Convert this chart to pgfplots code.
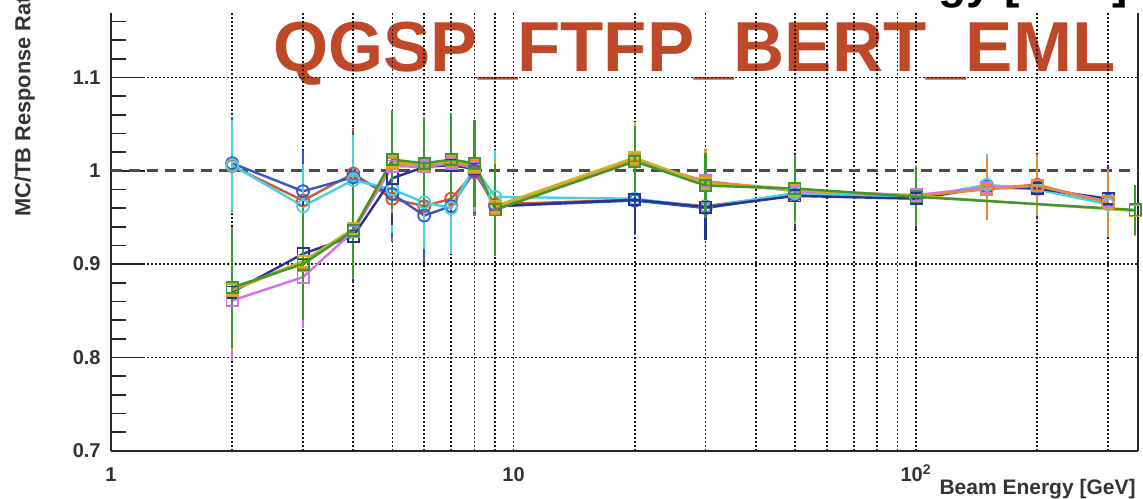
\documentclass[border=0pt]{standalone}
\usepackage{fontspec}
\setmainfont{Liberation Sans}
\usepackage{pgfplots}
\usepackage{pgfplotstable}
\pgfplotsset{compat=1.18}

\definecolor{titlered}{RGB}{190,72,40}
\definecolor{cBlue}{RGB}{55,85,205}
\definecolor{cNavy}{RGB}{40,50,150}
\definecolor{cCyan}{RGB}{70,210,225}
\definecolor{cRed}{RGB}{200,90,60}
\definecolor{cOrange}{RGB}{230,140,50}
\definecolor{cGreen}{RGB}{60,150,50}
\definecolor{cOlive}{RGB}{200,180,30}
\definecolor{cMagenta}{RGB}{210,110,240}

% E [GeV], MC/TB response ratio, uncertainty
\pgfplotstableread{
E R err
2 1.008 0.045
3 0.978 0.040
4 0.993 0.045
5 0.975 0.042
6 0.952 0.045
7 0.962 0.045
8 1.000 0.042
9 0.962 0.045
20 0.968 0.032
30 0.960 0.030
50 0.974 0.032
100 0.971 0.028
150 0.983 0.028
200 0.982 0.028
300 0.968 0.030
}\tBlue
\pgfplotstableread{
E R err
2 1.006 0.044
3 0.962 0.040
4 0.990 0.044
5 0.980 0.042
6 0.966 0.045
7 0.960 0.045
8 1.004 0.042
9 0.972 0.045
20 0.970 0.032
30 0.961 0.030
50 0.976 0.032
100 0.971 0.028
150 0.985 0.028
200 0.980 0.028
300 0.964 0.030
}\tCyan
\pgfplotstableread{
E R err
2 1.005 0.045
3 0.968 0.040
4 0.997 0.044
5 0.970 0.042
6 0.962 0.045
7 0.970 0.045
8 0.998 0.042
9 0.964 0.045
20 0.969 0.032
30 0.962 0.030
50 0.975 0.032
100 0.973 0.028
150 0.981 0.028
200 0.985 0.028
300 0.965 0.030
}\tRed
\pgfplotstableread{
E R err
2 0.870 0.058
3 0.911 0.052
4 0.930 0.045
5 0.992 0.045
6 1.004 0.045
7 1.006 0.045
8 1.002 0.042
9 0.962 0.045
20 0.969 0.032
30 0.961 0.030
50 0.973 0.032
100 0.970 0.028
150 0.982 0.028
200 0.981 0.028
300 0.970 0.030
}\tNavy
\pgfplotstableread{
E R err
2 0.872 0.060
3 0.902 0.055
4 0.937 0.047
5 1.008 0.047
6 1.006 0.045
7 1.010 0.045
8 1.005 0.042
9 0.960 0.045
20 1.012 0.033
30 0.988 0.030
50 0.980 0.032
100 0.973 0.028
150 0.980 0.028
200 0.984 0.028
300 0.966 0.030
}\tOrange
\pgfplotstableread{
E R err
2 0.861 0.060
3 0.886 0.050
4 0.935 0.046
5 1.005 0.046
6 1.004 0.045
7 1.008 0.045
8 1.003 0.042
9 0.960 0.045
20 1.010 0.033
30 0.989 0.030
50 0.978 0.030
100 0.974 0.027
150 0.982 0.028
200 0.984 0.028
300 0.967 0.030
}\tMagenta
\pgfplotstableread{
E R err
2 0.873 0.060
3 0.903 0.055
4 0.938 0.046
5 1.010 0.047
6 1.007 0.045
7 1.011 0.045
8 1.006 0.042
9 0.962 0.045
20 1.014 0.033
30 0.986 0.030
50 0.979 0.030
100 0.973 0.027
350 0.957 0.022
}\tOlive
\pgfplotstableread{
E R err
2 0.875 0.060
3 0.900 0.055
4 0.936 0.046
5 1.012 0.048
6 1.008 0.045
7 1.012 0.045
8 1.008 0.042
9 0.958 0.045
20 1.010 0.033
30 0.984 0.030
50 0.981 0.030
100 0.972 0.027
350 0.958 0.022
}\tGreen

\pgfplotsset{
  series/.style={
    color=#1, line width=1.2pt,
    mark options={solid, line width=0.9pt},
    error bars/y dir=both, error bars/y explicit,
    error bars/error bar style={line width=1.1pt, #1},
    error bars/error mark options={line width=1.1pt, mark size=2.2pt, #1},
  },
}

\begin{document}
\begin{tikzpicture}
\useasboundingbox (-55.5pt,-23.65pt) rectangle (516pt,225.35pt);
\clip (-55.5pt,-23.65pt) rectangle (516pt,225.35pt);
% physics list label, set behind the grid
\node[anchor=base west, inner sep=0pt, text=titlered,
      font=\fontsize{35.4}{35.4}\selectfont\bfseries] at (81pt,189.35pt) {QGSP\_FTFP\_BERT\_EML};
% axis title of the panel above
\node[anchor=base east, inner sep=0pt,
      font=\fontsize{23}{23}\selectfont\bfseries] at (508.5pt,225.9pt) {Beam Energy [GeV]};
\begin{axis}[
  at={(0pt,0pt)}, anchor=south west,
  scale only axis, width=513.5pt, height=218.85pt,
  xmode=log, xmin=1, xmax=356, ymin=0.7, ymax=1.169,
  axis x line*=bottom, axis y line*=box,
  axis line style={line width=1pt, black!85},
  clip=false,
  xtick={1,10,100}, xticklabels={1,10,10\textsuperscript{2}},
  minor xtick={2,3,4,5,6,7,8,9,20,30,40,50,60,70,80,90,200,300},
  ytick={0.7,0.8,0.9,1.1}, yticklabels={0.7,0.8,0.9,1.1},
  extra y ticks={1}, extra y tick labels={1},
  extra y tick style={ymajorgrids=false},
  minor ytick={0.72,0.74,0.76,0.78,0.82,0.84,0.86,0.88,0.92,0.94,0.96,0.98,1.02,1.04,1.06,1.08,1.12,1.14,1.16},
  ytick pos=left, xtick pos=bottom,
  tick align=inside,
  major tick length=17pt, minor tick length=7.5pt,
  every tick/.style={black!85, line width=0.8pt},
  xtick style={draw=none},
  xmajorgrids, xminorgrids, ymajorgrids,
  grid style={black!90, line width=0.85pt, dash pattern=on 1pt off 1pt},
  major grid style={black!90, line width=0.85pt, dash pattern=on 1pt off 1pt},
  minor grid style={black!90, line width=0.85pt, dash pattern=on 1pt off 1pt},
  yticklabel style={font=\fontsize{10}{10}\selectfont\bfseries, inner sep=0pt, xshift=-5pt, text=black!80},
  xticklabel style={font=\fontsize{10}{10}\selectfont\bfseries, inner sep=0pt, anchor=base, yshift=-15.5pt, text=black!80},
  /pgf/number format/assume math mode=true,
]
% unit ratio reference
\addplot[draw=black!70, line width=1.3pt, dash pattern=on 5.5pt off 3.5pt, forget plot] coordinates {(1,1) (356,1)};

\addplot[series=cRed, mark=o, mark size=3pt] table[x=E, y=R, y error=err] {\tRed};
\addplot[series=cBlue, mark=o, mark size=3pt] table[x=E, y=R, y error=err] {\tBlue};
\addplot[series=cCyan, mark=o, mark size=3pt] table[x=E, y=R, y error=err] {\tCyan};
\addplot[series=cNavy, mark=square, mark size=2.8pt] table[x=E, y=R, y error=err] {\tNavy};
\addplot[series=cMagenta, mark=square, mark size=2.8pt] table[x=E, y=R, y error=err] {\tMagenta};
\addplot[series=cOrange, mark=square, mark size=2.8pt] table[x=E, y=R, y error=err] {\tOrange};
\addplot[series=cOlive, mark=square, mark size=2.8pt] table[x=E, y=R, y error=err] {\tOlive};
\addplot[series=cGreen, mark=square, mark size=2.8pt] table[x=E, y=R, y error=err] {\tGreen};
\end{axis}
% axis titles
\node[anchor=mid west, rotate=90, inner sep=0pt, text=black!80,
      font=\fontsize{10.9}{10.9}\selectfont\bfseries] at (-43pt,116.85pt) {MC/TB Response Ratio};
\node[anchor=base east, inner sep=0pt, text=black!80,
      font=\fontsize{10.5}{10.5}\selectfont\bfseries] at (512.5pt,-21.65pt) {Beam Energy [GeV]};
\end{tikzpicture}
\end{document}
